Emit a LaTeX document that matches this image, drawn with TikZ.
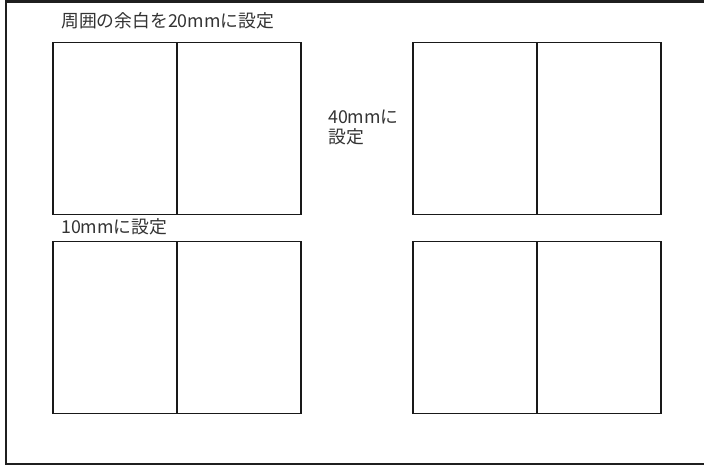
\documentclass[tikz,border=0pt]{standalone}
\usepackage{fontspec}
\newfontfamily\jp{Noto Sans CJK JP}
\begin{document}
\begin{tikzpicture}[x=1pt,y=-1pt,
  page/.style={draw=black!90,line width=1.1pt,minimum width=124pt,minimum height=172pt,inner sep=0pt,outer sep=0pt,anchor=north west},
  lbl/.style={font=\jp\fontsize{17.8}{19.5}\selectfont,text=black!80,inner sep=0pt,anchor=west,align=left}]
\useasboundingbox (0,0) rectangle (704,466);
\draw[line width=2.2pt,draw=black!88] (710,1.5) -- (6,1.5) -- (6,464) -- (710,464);
% top-left
\node[page] (a1) at (53,42.5) {};
\node[page] (a2) at (177,42.5) {};
% top-right
\node[page] (b1) at (413,42.5) {};
\node[page] (b2) at (537,42.5) {};
% bottom-left
\node[page] (c1) at (53,241.5) {};
\node[page] (c2) at (177,241.5) {};
% bottom-right
\node[page] (d1) at (413,241.5) {};
\node[page] (d2) at (537,241.5) {};
\node[lbl] (t1) at (61,20.5) {周囲の余白を20mmに設定};
\node[lbl] (t2) at (328,127.5) {40mmに\\設定};
\node[lbl] (t3) at (61,227) {10mmに設定};
\end{tikzpicture}
\end{document}
